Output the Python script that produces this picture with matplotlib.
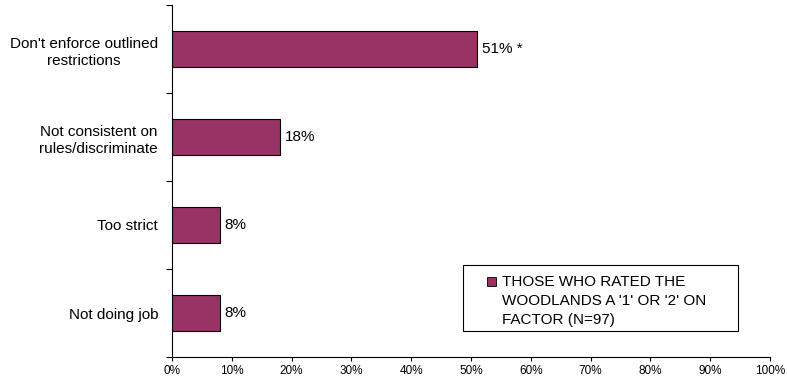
import matplotlib
matplotlib.use("Agg")
import matplotlib.pyplot as plt
from matplotlib.patches import Rectangle
import numpy as np

plt.rcParams['font.family'] = ['Liberation Sans', 'DejaVu Sans']

categories = ["Don't enforce outlined\nrestrictions",
              "Not consistent on\nrules/discriminate",
              "Too strict",
              "Not doing job"]
values = [51, 18, 8, 8]
value_labels = ["51% *", "18%", "8%", "8%"]
legend_label = "THOSE WHO RATED THE\nWOODLANDS A '1' OR '2' ON\nFACTOR (N=97)"
bar_color = '#993366'

fig = plt.figure(figsize=(7.87, 3.86), dpi=100)
ax = fig.add_axes([172 / 787, 1 - 357 / 386, 598 / 787, 352 / 386])

y = np.arange(len(categories))
ax.barh(y, values, height=0.41, color=bar_color, edgecolor='black', linewidth=0.8)
for yi, v, lab in zip(y, values, value_labels):
    ax.text(v + 0.8, yi, lab, va='center', ha='left', fontsize=11)

ax.set_xlim(0, 100)
ax.set_ylim(len(categories) - 0.5, -0.5)
ax.set_xticks(np.arange(0, 101, 10))
ax.set_xticklabels(['%d%%' % t for t in range(0, 101, 10)], fontsize=8.5)
ax.set_yticks(y)
ax.set_yticklabels(categories, fontsize=11, multialignment='center', linespacing=1.3)
ax.set_yticks(np.arange(-0.5, len(categories)), minor=True)
ax.tick_params(axis='y', which='major', length=0, pad=10)
ax.tick_params(axis='y', which='minor', length=4, width=0.8, direction='out')
ax.tick_params(axis='x', length=3, width=0.8, direction='out', pad=2.5)
for s in ['top', 'right']:
    ax.spines[s].set_visible(False)
for s in ['left', 'bottom']:
    ax.spines[s].set_linewidth(0.8)

# legend box drawn by hand so the swatch sits on the first line
fig.patches.append(Rectangle((463 / 787, 1 - 331 / 386), 275 / 787, 66 / 386,
                             transform=fig.transFigure, fill=False,
                             edgecolor='black', linewidth=0.8))
fig.patches.append(Rectangle((487 / 787, 1 - 286 / 386), 9 / 787, 9 / 386,
                             transform=fig.transFigure, facecolor=bar_color,
                             edgecolor='black', linewidth=0.6))
fig.text(502 / 787, 1 - 275 / 386, legend_label, ha='left', va='top',
         fontsize=11, linespacing=1.45)

fig.savefig('out.png', dpi=100)
